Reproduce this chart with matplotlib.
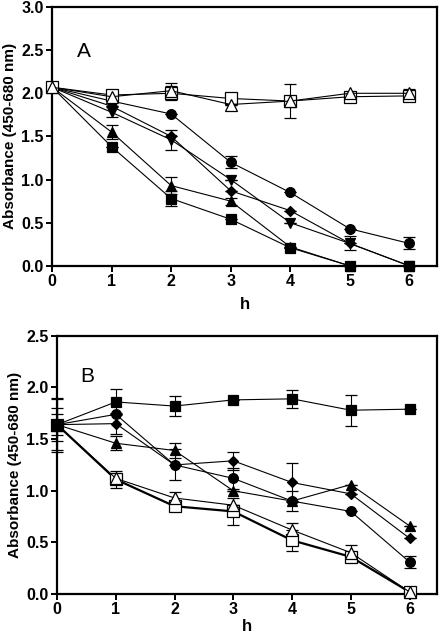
import numpy as np
import matplotlib
matplotlib.use('Agg')
import matplotlib.pyplot as plt

plt.rcParams['font.family'] = ['Liberation Sans', 'DejaVu Sans']

hours = [0, 1, 2, 3, 4, 5, 6]

# panel A
a_open_sq = [2.07, 1.98, 2.00, 1.94, 1.91, 1.96, 1.97]
a_open_sq_err = [0.0, 0.05, 0.08, 0.0, 0.0, 0.03, 0.06]
a_open_tri = [2.07, 1.96, 2.03, 1.87, 1.91, 2.00, 2.00]
a_open_tri_err = [0.0, 0.0, 0.09, 0.0, 0.20, 0.0, 0.05]
a_circle = [2.07, 1.91, 1.76, 1.20, 0.85, 0.43, 0.26]
a_circle_err = [0.0, 0.0, 0.0, 0.07, 0.0, 0.0, 0.07]
a_diamond = [2.07, 1.85, 1.50, 0.87, 0.64, 0.26, 0.0]
a_diamond_err = [0.0, 0.0, 0.0, 0.0, 0.0, 0.0, 0.0]
a_invtri = [2.07, 1.78, 1.46, 1.00, 0.50, 0.26, 0.0]
a_invtri_err = [0.0, 0.06, 0.12, 0.0, 0.0, 0.08, 0.0]
a_tri = [2.07, 1.55, 0.93, 0.75, 0.22, 0.0, 0.0]
a_tri_err = [0.0, 0.08, 0.10, 0.04, 0.0, 0.0, 0.0]
a_square = [2.07, 1.38, 0.78, 0.54, 0.21, 0.0, 0.0]
a_square_err = [0.0, 0.0, 0.09, 0.0, 0.0, 0.0, 0.0]

# panel B
b_square = [1.64, 1.86, 1.82, 1.88, 1.89, 1.78, 1.79]
b_square_err = [0.26, 0.13, 0.10, 0.0, 0.09, 0.15, 0.0]
b_circle = [1.64, 1.74, 1.25, 1.12, 0.90, 0.80, 0.31]
b_circle_err = [0.16, 0.0, 0.15, 0.10, 0.10, 0.0, 0.06]
b_diamond = [1.64, 1.65, 1.25, 1.29, 1.08, 0.97, 0.54]
b_diamond_err = [0.10, 0.10, 0.0, 0.09, 0.19, 0.0, 0.0]
b_tri = [1.64, 1.46, 1.39, 1.00, 0.90, 1.06, 0.66]
b_tri_err = [0.25, 0.07, 0.07, 0.0, 0.0, 0.0, 0.0]
b_open_sq = [1.64, 1.11, 0.85, 0.80, 0.52, 0.36, 0.02]
b_open_sq_err = [0.0, 0.08, 0.0, 0.13, 0.10, 0.0, 0.0]
b_open_tri = [1.64, 1.12, 0.93, 0.86, 0.62, 0.40, 0.02]
b_open_tri_err = [0.0, 0.0, 0.06, 0.0, 0.07, 0.07, 0.0]


def draw(ax, y, err, marker, filled, ms=7, lw=0.8):
    fc = 'black' if filled else 'white'
    ax.errorbar(hours, y, yerr=err, color='black', lw=lw, marker=marker, ms=ms,
                mfc=fc, mec='black', mew=0.9, capsize=4, elinewidth=0.8,
                capthick=0.8, clip_on=False, zorder=3)


def style(ax, ymax, yticks, xpad):
    ax.set_xlim(0, 6.47)
    ax.set_ylim(0, ymax)
    ax.set_xticks(hours)
    ax.set_yticks(yticks)
    ax.set_yticklabels(['%.1f' % t for t in yticks])
    for s in ax.spines.values():
        s.set_linewidth(1.6)
    ax.tick_params(direction='out', length=4, width=1.4, labelsize=11.5, pad=2)
    for lab in ax.get_xticklabels() + ax.get_yticklabels():
        lab.set_fontweight('bold')
    ax.set_xlabel('h', fontsize=12, fontweight='bold', labelpad=xpad)
    ax.set_ylabel('Absorbance (450-680 nm)', fontsize=11, fontweight='bold', labelpad=3)


fig = plt.figure(figsize=(4.42, 6.39), dpi=100)
axA = fig.add_axes([0.118, 0.584, 0.871, 0.405])
axB = fig.add_axes([0.129, 0.0704, 0.860, 0.404])

draw(axA, a_square, a_square_err, 's', True)
draw(axA, a_tri, a_tri_err, '^', True)
draw(axA, a_invtri, a_invtri_err, 'v', True)
draw(axA, a_diamond, a_diamond_err, 'D', True, ms=5.5)
draw(axA, a_circle, a_circle_err, 'o', True)
draw(axA, a_open_sq, a_open_sq_err, 's', False, ms=8)
draw(axA, a_open_tri, a_open_tri_err, '^', False, ms=8)
style(axA, 3.0, np.arange(0, 3.01, 0.5), 6)
axA.text(0.42, 2.42, 'A', fontsize=15)

draw(axB, b_open_sq, b_open_sq_err, 's', False, ms=8, lw=1.6)
draw(axB, b_open_tri, b_open_tri_err, '^', False, ms=8)
draw(axB, b_tri, b_tri_err, '^', True)
draw(axB, b_diamond, b_diamond_err, 'D', True, ms=5.5)
draw(axB, b_circle, b_circle_err, 'o', True)
draw(axB, b_square, b_square_err, 's', True)
style(axB, 2.5, np.arange(0, 2.51, 0.5), 1)
axB.text(0.39, 2.05, 'B', fontsize=15)

fig.savefig('out.png', dpi=100)
